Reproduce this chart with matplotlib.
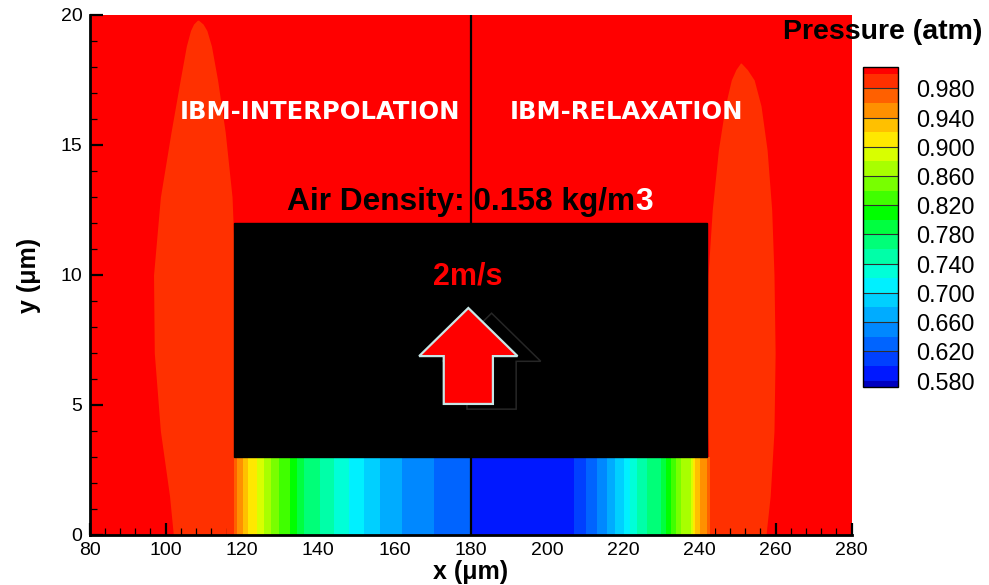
"""
Pressure field around a rising plate: IBM interpolation vs relaxation.
Contour bands under the plate, low-pressure plumes on both sides.
"""

import numpy as np
import matplotlib.pyplot as plt
from matplotlib.colors import ListedColormap
from matplotlib.patches import Rectangle, Polygon
from matplotlib.ticker import MultipleLocator

plt.rcParams["font.family"] = ["Liberation Sans", "DejaVu Sans"]

# ---- pressure levels (atm) and band colours ----
levels = np.round(np.arange(0.58, 1.0001, 0.02), 2)
band_colors = ["#0018ff", "#0040ff", "#0064ff", "#0088ff", "#00acff",
               "#00d0ff", "#00f0ff", "#00ffd8", "#00ffa8", "#00ff78",
               "#00ff40", "#00ff00", "#40ff00", "#78ff00", "#a8ff00",
               "#d8ff00", "#ffe800", "#ffc000", "#ff9000", "#ff6000",
               "#ff3000"]
label_levels = [0.58, 0.62, 0.66, 0.70, 0.74, 0.78, 0.82, 0.86, 0.90, 0.94, 0.98]

# ---- pressure along the gap under the plate (y = 0..3 um) ----
gap_y = [0.0, 3.0]
gap_x = [116.0, 117.8, 118.8, 120.4, 121.7, 123.9, 125.7, 129.6, 132.7,
         136.2, 140.5, 148.0, 151.9, 156.3, 162.0, 170.3, 179.8,
         180.2, 207.1, 210.2, 213.2, 215.9, 218.0, 220.2, 223.7, 226.4,
         229.9, 232.5, 235.1, 237.7, 239.0, 240.3, 242.1, 242.8, 244.0]
gap_p = [0.99, 0.98, 0.96, 0.94, 0.92, 0.90, 0.88, 0.84, 0.82,
         0.78, 0.76, 0.72, 0.70, 0.68, 0.66, 0.64, 0.621,
         0.595, 0.60, 0.62, 0.64, 0.66, 0.68, 0.70, 0.74, 0.76,
         0.78, 0.82, 0.86, 0.88, 0.92, 0.94, 0.96, 0.98, 0.99]

# ---- low-pressure plumes beside the plate (outline per height) ----
left_plume_y = [0.0, 1.5, 4.0, 7.0, 10.0, 13.0, 15.5, 17.5, 18.8, 19.4, 19.65, 19.8]
left_plume_xl = [102.0, 101.0, 98.6, 97.0, 96.8, 98.6, 101.4, 103.8, 105.4, 106.5, 107.3, 108.3]
left_plume_xr = [117.2, 117.6, 118.0, 118.2, 118.2, 117.4, 115.6, 113.6, 112.0, 110.8, 109.8, 108.6]

right_plume_y = [0.0, 1.5, 4.0, 7.0, 10.0, 12.5, 14.8, 16.5, 17.5, 17.9, 18.15]
right_plume_xl = [243.4, 242.8, 242.2, 242.0, 242.3, 243.4, 245.0, 246.8, 248.4, 249.6, 250.8]
right_plume_xr = [257.5, 258.6, 259.6, 259.9, 259.6, 259.0, 257.8, 256.2, 254.4, 252.6, 251.0]

# plate and velocity arrow geometry (um)
plate_x0, plate_x1 = 118.0, 242.1
plate_y0, plate_y1 = 3.0, 12.0
arrow_cx, arrow_tip, arrow_neck, arrow_tail = 179.4, 8.73, 6.88, 5.04
arrow_head_half, arrow_shaft_half = 12.9, 6.45

cmap = ListedColormap(band_colors)
cmap.set_over("#ff0000")
cmap.set_under("#0000c0")

fig = plt.figure(figsize=(9.89, 5.85), dpi=100)
ax = fig.add_axes([0.0905, 0.0855, 0.7707, 0.8889])
ax.set_xlim(80, 280)
ax.set_ylim(0, 20)
ax.set_facecolor("#ff0000")

ax.fill_betweenx(left_plume_y, left_plume_xl, left_plume_xr,
                 color=band_colors[-1], lw=0, zorder=1)
ax.fill_betweenx(right_plume_y, right_plume_xl, right_plume_xr,
                 color=band_colors[-1], lw=0, zorder=1)

gap_field = np.vstack([gap_p, gap_p])
cs = ax.contourf(gap_x, gap_y, gap_field, levels=levels, cmap=cmap,
                 extend="both", zorder=2)

ax.axvline(180, color="black", lw=1.6, zorder=3)
ax.add_patch(Rectangle((plate_x0, plate_y0), plate_x1 - plate_x0,
                       plate_y1 - plate_y0, color="black", zorder=3))


def arrow_outline(cx, dy=0.0):
    return [(cx, arrow_tip + dy),
            (cx + arrow_head_half, arrow_neck + dy),
            (cx + arrow_shaft_half, arrow_neck + dy),
            (cx + arrow_shaft_half, arrow_tail + dy),
            (cx - arrow_shaft_half, arrow_tail + dy),
            (cx - arrow_shaft_half, arrow_neck + dy),
            (cx - arrow_head_half, arrow_neck + dy)]


ax.add_patch(Polygon(arrow_outline(arrow_cx + 6.1, -0.2), closed=True,
                     facecolor="none", edgecolor="#262626", lw=1.1, zorder=4))
ax.add_patch(Polygon(arrow_outline(arrow_cx), closed=True,
                     facecolor="#ff0000", edgecolor="#c8e6e6", lw=1.6, zorder=5))

# labels on the field
ax.text(140.5, 16.27, "IBM-INTERPOLATION", color="white", fontsize=17.5,
        fontweight="bold", family="DejaVu Sans", ha="center", va="center", zorder=6)
ax.text(221.0, 16.27, "IBM-RELAXATION", color="white", fontsize=17.5,
        fontweight="bold", family="DejaVu Sans", ha="center", va="center", zorder=6)
dens = ax.text(131.9, 12.5, "Air Density: 0.158 kg/m", color="black", fontsize=22.8,
               fontweight="bold", ha="left", va="baseline", zorder=6)
ax.annotate("3", xy=(1, 0), xycoords=dens, color="white", fontsize=22.8,
            fontweight="bold", ha="left", va="bottom", zorder=6)
ax.text(179.3, 9.62, "2m/s", color="#ff0000", fontsize=22, fontweight="bold",
        ha="center", va="baseline", zorder=6)

# axes styling
ax.xaxis.set_major_locator(MultipleLocator(20))
ax.xaxis.set_minor_locator(MultipleLocator(4))
ax.yaxis.set_major_locator(MultipleLocator(5))
ax.yaxis.set_minor_locator(MultipleLocator(1))
ax.tick_params(which="major", direction="in", length=9, width=1.6,
               labelsize=14, pad=5, top=False, right=False)
ax.tick_params(which="minor", direction="in", length=5, width=0.9,
               top=False, right=False)
for side in ("top", "right"):
    ax.spines[side].set_visible(False)
for side in ("left", "bottom"):
    ax.spines[side].set_linewidth(2)

ax.set_xlabel("x (μm)", fontsize=18, fontweight="bold", labelpad=1)
ax.set_ylabel("y (μm)", fontsize=18, fontweight="bold", labelpad=14)

# legend bar
cax = fig.add_axes([0.8723, 0.338, 0.0357, 0.5475])
cb = fig.colorbar(cs, cax=cax, extend="both", extendrect=True,
                  extendfrac=0.022, ticks=label_levels, format="%.3f")
cb.outline.set_linewidth(1)
cb.ax.tick_params(length=0, pad=13, labelsize=16.8)
for v in label_levels:
    cb.ax.axhline(v, color="#303030", lw=0.8)

fig.text(0.892, 0.945, "Pressure (atm)", fontsize=20.5, fontweight="bold",
         ha="center", va="center")

fig.savefig("out.png", dpi=100)
